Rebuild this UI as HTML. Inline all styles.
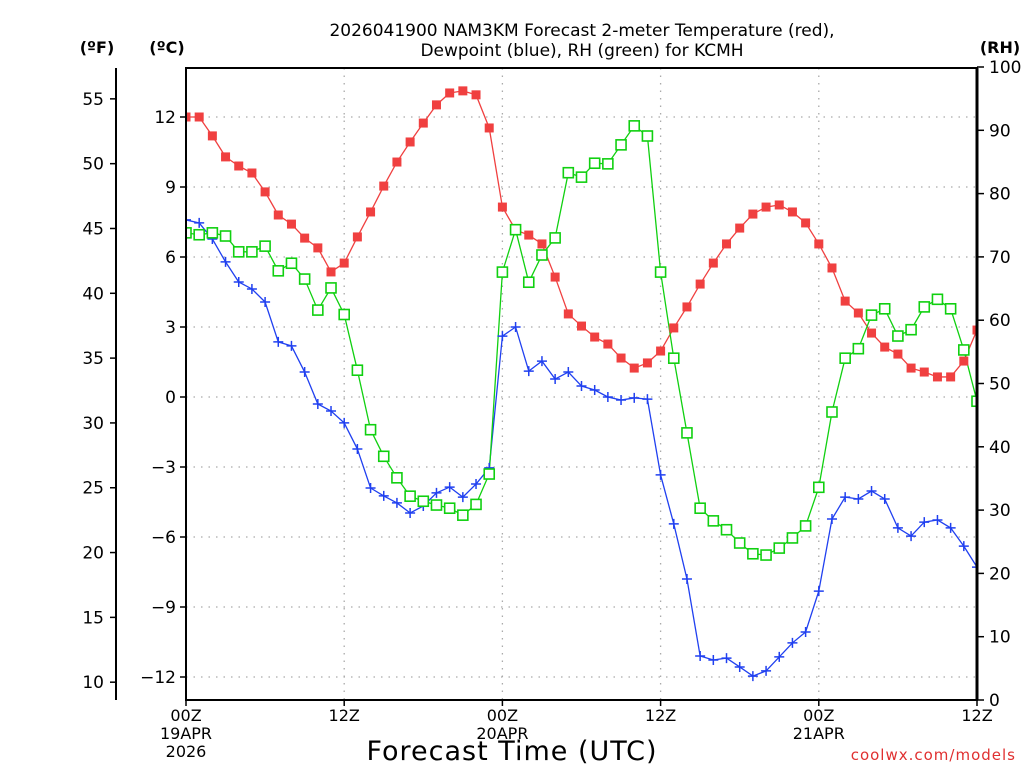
<!DOCTYPE html>
<html><head><meta charset="utf-8"><style>
html,body{margin:0;padding:0;background:#fff;}
svg{display:block;font-family:"DejaVu Sans","Liberation Sans",sans-serif;}
</style></head><body>
<svg id="chart" width="1024" height="768" viewBox="0 0 1024 768">
<defs><clipPath id="pc"><rect x="186" y="68" width="791" height="632"/></clipPath></defs>
<g id="grid"></g>
<g id="series" clip-path="url(#pc)"></g>
<g id="axes"></g>
<text x="582" y="36" text-anchor="middle" font-size="17" fill="#000">2026041900 NAM3KM Forecast 2-meter Temperature (red),</text>
<text x="582" y="56" text-anchor="middle" font-size="17" fill="#000">Dewpoint (blue), RH (green) for KCMH</text>
<text x="97" y="53" text-anchor="middle" font-size="16" font-weight="bold">(ºF)</text>
<text x="167" y="53" text-anchor="middle" font-size="16" font-weight="bold">(ºC)</text>
<text x="1000" y="53" text-anchor="middle" font-size="16" font-weight="bold">(RH)</text>
<text x="512" y="760" text-anchor="middle" font-size="27" letter-spacing="1">Forecast Time (UTC)</text>
<text x="1016" y="760" text-anchor="end" font-size="15" fill="#e03030" letter-spacing="1">coolwx.com/models</text>
</svg>
<script>
const hours = [0,1,2,3,4,5,6,7,8,9,10,11,12,13,14,15,16,17,18,19,20,21,22,23,24,25,26,27,28,29,30,31,32,33,34,35,36,37,38,39,40,41,42,43,44,45,46,47,48,49,50,51,52,53,54,55,56,57,58,59,60];
const tempC = [12.0,12.0,11.19,10.29,9.9,9.6,8.79,7.8,7.41,6.81,6.39,5.36,5.74,6.86,7.93,9.04,10.07,10.93,11.74,12.52,13.03,13.12,12.95,11.53,8.14,7.16,6.94,6.56,5.14,3.56,3.04,2.57,2.27,1.67,1.24,1.46,1.97,2.96,3.86,4.84,5.74,6.56,7.24,7.84,8.14,8.23,7.93,7.46,6.56,5.53,4.11,3.6,2.74,2.14,1.84,1.24,1.07,0.86,0.86,1.54,2.87];
const dewC = [7.59,7.46,6.77,5.79,4.93,4.63,4.07,2.36,2.19,1.07,-0.3,-0.6,-1.11,-2.23,-3.9,-4.24,-4.54,-4.97,-4.67,-4.11,-3.86,-4.29,-3.73,-3.04,2.61,3.0,1.11,1.54,0.77,1.07,0.47,0.3,0,-0.13,-0.04,-0.09,-3.34,-5.44,-7.8,-11.1,-11.27,-11.19,-11.57,-11.96,-11.74,-11.14,-10.54,-10.07,-8.32,-5.23,-4.29,-4.37,-4.03,-4.37,-5.61,-5.96,-5.36,-5.27,-5.61,-6.39,-7.29];
const rh = [73.8,73.5,73.8,73.3,70.8,70.8,71.7,67.8,69.0,66.5,61.6,65.1,60.9,52.1,42.7,38.5,35.1,32.2,31.4,30.8,30.3,29.2,30.9,35.7,67.6,74.3,66.0,70.3,73.0,83.3,82.6,84.8,84.7,87.7,90.7,89.1,67.6,54.0,42.2,30.3,28.3,26.9,24.8,23.1,22.9,24.0,25.6,27.5,33.6,45.5,54.0,55.5,60.8,61.8,57.5,58.5,62.1,63.3,61.8,55.3,47.2];
const cTicks = [-12,-9,-6,-3,0,3,6,9,12];
const fTicks = [10,15,20,25,30,35,40,45,50,55];
const rhTicks = [0,10,20,30,40,50,60,70,80,90,100];
const xMajor = [0,12,24,36,48,60];
const xLabels = [["00Z","19APR","2026"],["12Z"],["00Z","20APR"],["12Z"],["00Z","21APR"],["12Z"]];

const NS="http://www.w3.org/2000/svg";
const X0=186,X1=977,Y0=68,Y1=700;
const xs=h=>X0+(X1-X0)*h/60;
const yC=c=>397-c*(560/24);
const yF=f=>yC((f-32)*5/9);
const yR=r=>Y1-(Y1-67)*r/100;
function mk(tag,attrs,parent){const e=document.createElementNS(NS,tag);for(const k in attrs)e.setAttribute(k,attrs[k]);parent.appendChild(e);return e;}
const grid=document.getElementById('grid'),ser=document.getElementById('series'),ax=document.getElementById('axes');

cTicks.forEach(c=>{const l=mk('line',{x1:X0,x2:X1,y1:yC(c),y2:yC(c),stroke:'#aaa','stroke-width':1.3,'stroke-dasharray':'1.5,6'},grid);

});
xMajor.slice(1,5).forEach(h=>{const l=mk('line',{x1:xs(h),x2:xs(h),y1:Y0,y2:Y1,stroke:'#aaa','stroke-width':1.3,'stroke-dasharray':'1.5,6'},grid);

});

// frame
const fr=mk('rect',{x:X0,y:Y0,width:X1-X0,height:Y1-Y0,fill:'none',stroke:'#000','stroke-width':2},ax);


mk('line',{x1:X1,x2:X1,y1:Y0,y2:Y1,stroke:'#000','stroke-width':3},ax);
const fl=mk('line',{x1:116,x2:116,y1:Y0,y2:Y1,stroke:'#000','stroke-width':2},ax);



cTicks.forEach(c=>{mk('line',{x1:X0-6,x2:X0,y1:yC(c),y2:yC(c),stroke:'#000','stroke-width':1.5},ax);
const t=mk('text',{x:X0-10,y:yC(c)+6,'text-anchor':'end','font-size':17},ax);t.textContent=(c<0?'\u2212'+(-c):c);

});
fTicks.forEach(f=>{mk('line',{x1:110,x2:116,y1:yF(f),y2:yF(f),stroke:'#000','stroke-width':1.5},ax);
const t=mk('text',{x:104,y:yF(f)+6,'text-anchor':'end','font-size':17},ax);t.textContent=f;

});
rhTicks.forEach(r=>{mk('line',{x1:X1,x2:X1+7,y1:yR(r),y2:yR(r),stroke:'#000','stroke-width':1.5},ax);
const t=mk('text',{x:X1+12,y:yR(r)+6,'font-size':17},ax);t.textContent=r;

});
xMajor.forEach((h,i)=>{mk('line',{x1:xs(h),x2:xs(h),y1:Y1,y2:Y1+6,stroke:'#000','stroke-width':1.5},ax);
xLabels[i].forEach((s,j)=>{const t=mk('text',{x:xs(h),y:Y1+21+j*18,'text-anchor':'middle','font-size':16},ax);t.textContent=s;

});});

function line(vals,yf,color,name){const pts=hours.map((h,i)=>xs(h)+','+yf(vals[i])).join(' ');
const p=mk('polyline',{points:pts,fill:'none',stroke:color,'stroke-width':1.3},ser);

}
line(tempC,yC,'#f04040','temperature-line');
line(dewC,yC,'#2040f0','dewpoint-line');
line(rh,yR,'#10d010','rh-line');
hours.forEach((h,i)=>{
const m=mk('rect',{x:xs(h)-4.5,y:yC(tempC[i])-4.5,width:9,height:9,fill:'#f04040'},ser);


const d=mk('path',{d:`M${xs(h)-5},${yC(dewC[i])}h10M${xs(h)},${yC(dewC[i])-5}v10`,stroke:'#2040f0','stroke-width':1.5,fill:'none'},ser);


const r=mk('rect',{x:xs(h)-5,y:yR(rh[i])-5,width:10,height:10,fill:'#fff',stroke:'#10d010','stroke-width':1.6},ser);


});
</script>
</body></html>
